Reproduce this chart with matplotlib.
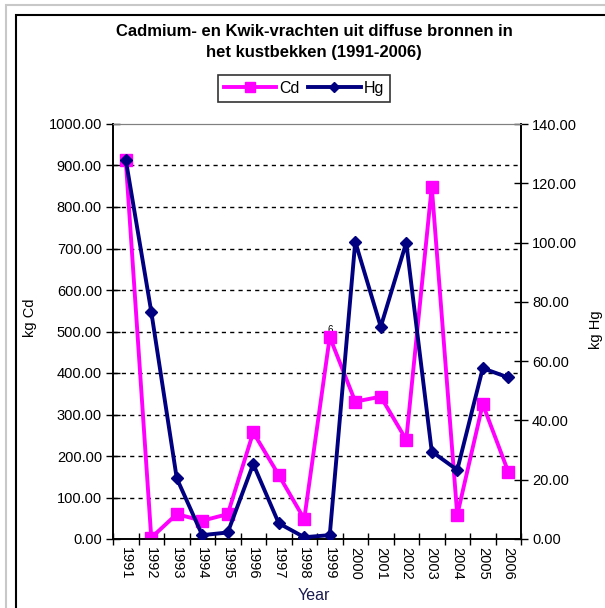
import numpy as np
import matplotlib
matplotlib.use("Agg")
from matplotlib import pyplot as plt
from matplotlib.lines import Line2D
from matplotlib.patches import Rectangle

plt.rcParams['font.family'] = ['Liberation Sans', 'DejaVu Sans']

years = list(range(1991, 2007))
cd = [913, 3, 60, 44, 60, 257, 154, 48, 487, 331, 343, 239, 849, 58, 325, 162]
hg = [128.0, 76.7, 20.5, 1.3, 2.2, 25.3, 5.3, 0.6, 1.3, 100.3, 71.6, 100.0, 29.5, 23.3, 57.6, 54.5]
left_ticks = [0, 100, 200, 300, 400, 500, 600, 700, 800, 900, 1000]
right_ticks = [0, 20, 40, 60, 80, 100, 120, 140]

W, H = 605, 608
fig = plt.figure(figsize=(W / 100, H / 100), dpi=100)

# outer frames
fig.add_artist(Rectangle((5.5 / W, -0.1), 2.0, 1.1 - 5.5 / H, transform=fig.transFigure,
                         fill=False, ec='#c8c8c8', lw=1.5))
fig.add_artist(Rectangle((15.5 / W, -0.1), 2.0, 1.1 - 15.5 / H, transform=fig.transFigure,
                         fill=False, ec='black', lw=1.5))

ax1 = fig.add_axes([113 / W, 1 - 539 / H, (521 - 113) / W, (539 - 124) / H])
ax2 = ax1.twinx()

ax1.set_xlim(1990.5, 2006.5)
ax1.set_ylim(0, 1000)
ax2.set_ylim(0, 140)

for y in left_ticks[1:-1]:
    ax1.axhline(y, color='black', ls=(0, (3, 3)), lw=1, zorder=1)

ax1.plot(years, cd, color='#ff00ff', lw=2.8, marker='s', ms=8.5, zorder=3)
ax1.text(1999, 492, '6', fontsize=7, ha='center', va='bottom', zorder=2)
ax2.plot(years, hg, color='#000080', lw=2.8, marker='D', ms=6.5, zorder=3)

ax1.set_yticks(left_ticks)
ax1.set_yticklabels(['%.2f' % v for v in left_ticks], fontsize=10.5)
ax2.set_yticks(right_ticks)
ax2.set_yticklabels(['%.2f' % v for v in right_ticks], fontsize=10.5)

ax1.set_xticks(years)
ax1.set_xticklabels([str(y) for y in years], rotation=270, fontsize=10.5)
ax1.set_xticks(np.arange(1990.5, 2007, 1.0), minor=True)
ax1.tick_params(axis='x', which='major', length=0, pad=6)
ax1.tick_params(axis='x', which='minor', length=9, direction='inout', width=1)
ax1.tick_params(axis='y', length=10, direction='inout', width=1, pad=3)
ax2.tick_params(axis='y', length=10, direction='inout', width=1, pad=3)

for a in (ax1, ax2):
    a.spines['top'].set_color('#808080')
    a.spines['left'].set_linewidth(1.2)
    a.spines['right'].set_linewidth(1.2)
    a.spines['bottom'].set_linewidth(1.2)

fig.text(30 / W, 1 - 318 / H, 'kg Cd', rotation=90, ha='center', va='center', fontsize=10.5)
fig.text(596 / W, 1 - 330 / H, 'kg Hg', rotation=90, ha='center', va='center', fontsize=10.5)
fig.text(314 / W, 1 - 596 / H, 'Year', ha='center', va='center', fontsize=11.5, color='#1a1a50')

fig.text(314 / W, 1 - 31 / H, 'Cadmium- en Kwik-vrachten uit diffuse bronnen in',
         ha='center', va='center', fontsize=12, fontweight='bold')
fig.text(314 / W, 1 - 52 / H, 'het kustbekken (1991-2006)',
         ha='center', va='center', fontsize=12, fontweight='bold')

handles = [Line2D([], [], color='#ff00ff', lw=2.8, marker='s', ms=7),
           Line2D([], [], color='#000080', lw=2.8, marker='D', ms=5.5)]
leg = fig.legend(handles, ['Cd', 'Hg'], loc='center', bbox_to_anchor=(304 / W, 1 - 88.5 / H),
                 ncol=2, frameon=True, fancybox=False, fontsize=11.5, handlelength=3.3,
                 columnspacing=0.5, handletextpad=0.2, borderpad=0.35, borderaxespad=0)
leg.get_frame().set_edgecolor('black')
leg.get_frame().set_linewidth(1.2)

fig.savefig('out.png', dpi=100)
